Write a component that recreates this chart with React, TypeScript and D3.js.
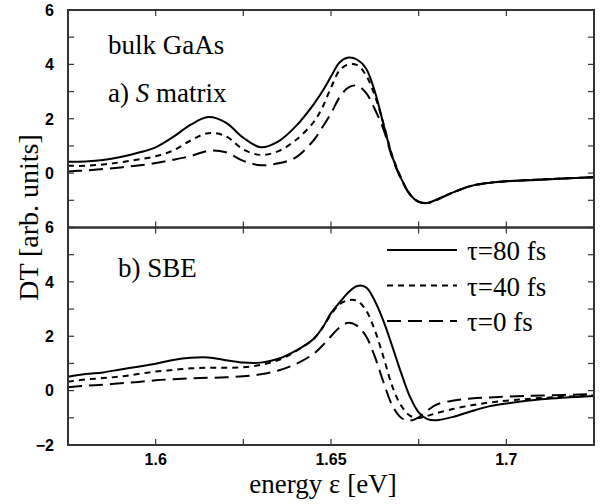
import React from 'react';
import * as d3 from 'd3';

// photon energy grid (eV)
const energy = [
  1.575, 1.58, 1.585, 1.59, 1.595, 1.6, 1.605, 1.61, 1.615, 1.62, 1.625, 1.63, 1.635, 1.64,
  1.645, 1.6475, 1.65, 1.6525, 1.655, 1.6575, 1.66, 1.6625, 1.665, 1.6675, 1.67, 1.6725,
  1.675, 1.6775, 1.68, 1.685, 1.69, 1.695, 1.7, 1.71, 1.725,
];

// a) S matrix
const sMatrix80 = [
  0.42, 0.43, 0.48, 0.59, 0.75, 0.95, 1.33, 1.78, 2.06, 1.86, 1.3, 0.95, 1.17, 1.73,
  2.52, 3.0, 3.55, 4.08, 4.25, 4.17, 3.85, 3.0, 1.78, 0.6, -0.2, -0.78,
  -1.06, -1.1, -0.98, -0.7, -0.47, -0.36, -0.3, -0.24, -0.15,
];
const sMatrix40 = [
  0.27, 0.27, 0.32, 0.4, 0.5, 0.62, 0.83, 1.2, 1.47, 1.36, 0.87, 0.67, 0.81, 1.22,
  1.87, 2.4, 3.15, 3.79, 4.0, 3.97, 3.6, 2.85, 1.8, 0.63, -0.17, -0.77,
  -1.05, -1.1, -0.99, -0.7, -0.47, -0.36, -0.3, -0.23, -0.15,
];
const sMatrix0 = [
  0.06, 0.1, 0.15, 0.21, 0.28, 0.37, 0.49, 0.63, 0.82, 0.77, 0.45, 0.29, 0.36, 0.58,
  1.2, 1.68, 2.2, 2.8, 3.15, 3.22, 2.95, 2.35, 1.6, 0.55, -0.22, -0.78,
  -1.05, -1.1, -0.99, -0.7, -0.47, -0.36, -0.3, -0.23, -0.15,
];

// b) SBE
const sbe80 = [
  0.51, 0.61, 0.67, 0.78, 0.88, 0.99, 1.13, 1.21, 1.22, 1.12, 1.03, 1.03, 1.17, 1.47,
  1.9, 2.3, 2.85, 3.25, 3.62, 3.85, 3.8, 3.3, 2.55, 1.62, 0.65, -0.22,
  -0.8, -1.05, -1.09, -0.96, -0.76, -0.58, -0.47, -0.32, -0.2,
];
const sbe40 = [
  0.33, 0.41, 0.46, 0.52, 0.61, 0.7, 0.76, 0.82, 0.84, 0.84, 0.86, 0.95, 1.12, 1.45,
  1.9, 2.3, 2.8, 3.18, 3.33, 3.3, 2.95, 2.22, 1.22, 0.15, -0.55, -0.92,
  -1.01, -0.93, -0.83, -0.67, -0.54, -0.44, -0.37, -0.27, -0.17,
];
const sbe0 = [
  0.12, 0.18, 0.22, 0.27, 0.32, 0.38, 0.42, 0.45, 0.47, 0.49, 0.53, 0.6, 0.74, 0.98,
  1.35, 1.65, 2.0, 2.33, 2.5, 2.38, 2.0, 1.25, 0.3, -0.55, -1.0, -1.1,
  -0.98, -0.73, -0.52, -0.36, -0.29, -0.25, -0.22, -0.18, -0.13,
];

const legendLabels = ['τ=80 fs', 'τ=40 fs', 'τ=0 fs'];
const dashes = [null, '6,5', '14,7'];
const xTickLabels = [1.6, 1.65, 1.7];

const W = 600;
const H = 504;
const left = 68;
const right = 594;
const top = 10;
const mid = 227.5;
const bottom = 445;

const serif = '"Liberation Serif", "Times New Roman", serif';
const sans = '"Liberation Sans", Arial, Helvetica, sans-serif';

const x = d3.scaleLinear().domain([1.575, 1.725]).range([left, right]);
const yTop = d3.scaleLinear().domain([-2, 6]).range([mid, top]);
const yBot = d3.scaleLinear().domain([-2, 6]).range([bottom, mid]);

const minorX = d3.range(1.575, 1.7251, 0.025);
const minorY = d3.range(-2, 6.01, 1);

function Panel({ y, series, labels }: { y: d3.ScaleLinear<number, number>; series: number[][]; labels: number[] }) {
  const line = d3
    .line<number>()
    .x((_, i) => x(energy[i]))
    .y((d) => y(d))
    .curve(d3.curveCatmullRom.alpha(0.5));
  const [y0, y1] = y.range();
  const tl = 6;
  return (
    <g>
      {series.map((s, i) => (
        <path
          key={i}
          d={line(s) || ''}
          fill="none"
          stroke="#000"
          strokeWidth={2}
          strokeDasharray={dashes[i] || undefined}
        />
      ))}
      {minorX.map((t) => (
        <g key={'x' + t} stroke="#333" strokeWidth={1.2}>
          <line x1={x(t)} x2={x(t)} y1={y0} y2={y0 - tl} />
          <line x1={x(t)} x2={x(t)} y1={y1} y2={y1 + tl} />
        </g>
      ))}
      {minorY.map((t) => (
        <g key={'y' + t} stroke="#333" strokeWidth={1.2}>
          <line x1={left} x2={left + tl} y1={y(t)} y2={y(t)} />
          <line x1={right} x2={right - tl} y1={y(t)} y2={y(t)} />
        </g>
      ))}
      {labels.map((t) => (
        <text
          key={'l' + t}
          x={54}
          y={y(t)}
          dy="0.36em"
          textAnchor="end"
          fontFamily={sans}
          fontWeight="bold"
          fontSize={16}
        >
          {t < 0 ? '\u2212' + Math.abs(t) : t}
        </text>
      ))}
      <rect x={left} y={y1} width={right - left} height={y0 - y1} fill="none" stroke="#333" strokeWidth={2} />
    </g>
  );
}

export default function App() {
  return (
    <svg
      width={W}
      height={H}
      style={{ position: 'absolute', left: 0, top: 0, background: '#fff' }}
    >
      <Panel y={yTop} series={[sMatrix80, sMatrix40, sMatrix0]} labels={[0, 2, 4, 6]} />
      <Panel y={yBot} series={[sbe80, sbe40, sbe0]} labels={[-2, 0, 2, 4, 6]} />

      {xTickLabels.map((t) => (
        <text key={t} x={x(t)} y={465} textAnchor="middle" fontFamily={sans} fontWeight="bold" fontSize={16}>
          {t}
        </text>
      ))}

      <text x={108} y={54} fontFamily={serif} fontSize={27}>
        bulk GaAs
      </text>
      <text x={108} y={102} fontFamily={serif} fontSize={27}>
        a) <tspan fontStyle="italic">S</tspan> matrix
      </text>
      <text x={118} y={277} fontFamily={serif} fontSize={27}>
        b) SBE
      </text>

      {legendLabels.map((l, i) => (
        <g key={l} transform={`translate(0,${250 + i * 35.5})`}>
          <line x1={387} x2={457} y1={0} y2={0} stroke="#000" strokeWidth={2} strokeDasharray={dashes[i] || undefined} />
          <text x={467} y={10} fontFamily={serif} fontSize={27}>
            {l}
          </text>
        </g>
      ))}

      <text
        transform={`translate(38,${(top + bottom) / 2 - 10}) rotate(-90)`}
        textAnchor="middle"
        fontFamily={serif}
        fontSize={28}
      >
        DT [arb. units]
      </text>
      <text x={323} y={493} textAnchor="middle" fontFamily={serif} fontSize={27}>
        energy ε [eV]
      </text>
    </svg>
  );
}
